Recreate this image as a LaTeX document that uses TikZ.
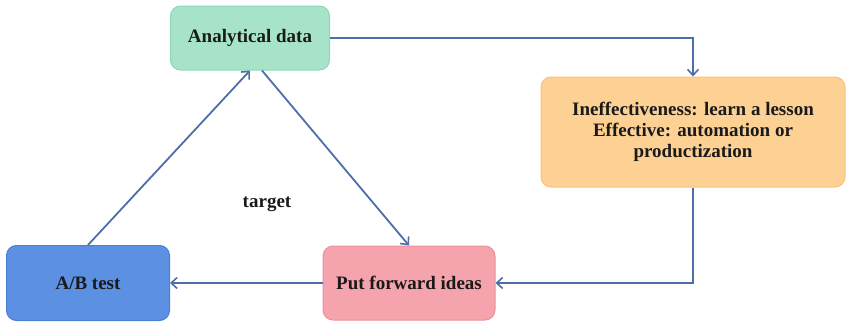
\documentclass[tikz,border=0pt]{standalone}
\usepackage{fontspec}
\setmainfont{Liberation Serif}
\usetikzlibrary{arrows.meta,calc}
\definecolor{arrowc}{HTML}{4E6EAA}
\definecolor{greenf}{HTML}{A6E3C8}
\definecolor{greend}{HTML}{90D6B6}
\definecolor{orangef}{HTML}{FDD193}
\definecolor{oranged}{HTML}{F9C27A}
\definecolor{bluef}{HTML}{5B90E2}
\definecolor{blued}{HTML}{4A7FD6}
\definecolor{pinkf}{HTML}{F5A3AC}
\definecolor{pinkd}{HTML}{EE909B}
\definecolor{textc}{HTML}{1A1A1A}
\tikzset{
  box/.style={rectangle, rounded corners=10pt, line width=1pt, align=center,
    font=\fontsize{19}{21}\selectfont\bfseries, text=textc, inner sep=2pt},
  conn/.style={draw=arrowc, line width=1.8pt, -{Straight Barb[length=6pt,width=11pt,line width=1.6pt]}},
}
\begin{document}
\begin{tikzpicture}[x=1pt,y=-1pt]
\useasboundingbox (0,0) rectangle (846,324);
\node[box, fill=greenf, draw=greend, minimum width=159pt, minimum height=64pt] (ad) at (250,38) {Analytical data};
\node[box, fill=orangef, draw=oranged, minimum width=304pt, minimum height=110pt] (ie) at (693,132) {Ineffectiveness: learn a lesson\\Effective: automation or\\productization};
\node[box, fill=bluef, draw=blued, minimum width=163pt, minimum height=75pt] (ab) at (88,283) {A/B test};
\node[box, fill=pinkf, draw=pinkd, minimum width=172pt, minimum height=74pt] (pf) at (409,283) {Put forward ideas};
\node[font=\fontsize{19}{21}\selectfont\bfseries, text=textc] (tg) at (267,204) {target};
\draw[conn] (ad.east) -| (ie.north);
\draw[conn] (ie.south) |- (pf.east);
\draw[conn] (pf.west) -- (ab.east);
\draw[conn] (ab.north) -- (ad.south);
\draw[conn] ([xshift=12pt]ad.south) -- (pf.north);
\end{tikzpicture}
\end{document}
